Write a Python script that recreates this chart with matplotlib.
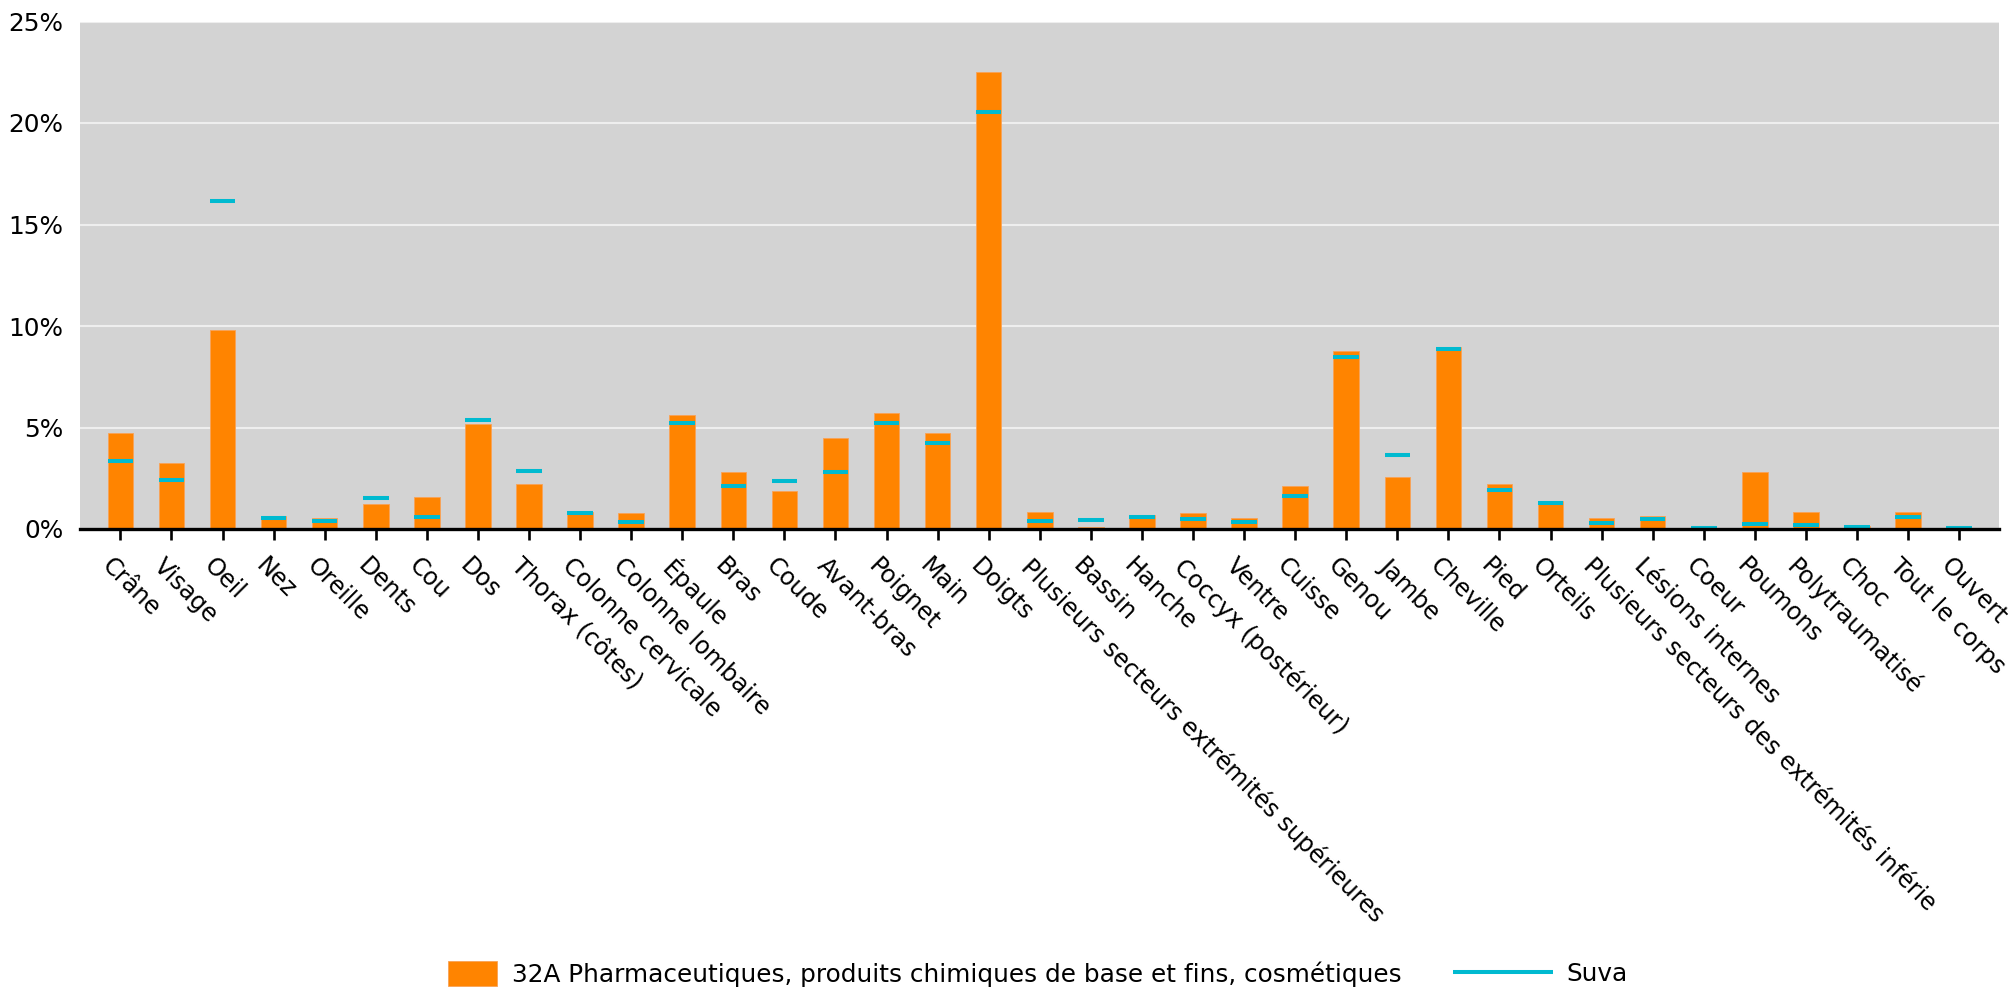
import matplotlib
matplotlib.use('Agg')
import matplotlib.pyplot as plt
import numpy as np
from matplotlib.transforms import ScaledTranslation

categories = [
    "Crâne", "Visage", "Oeil", "Nez", "Oreille", "Dents", "Cou", "Dos",
    "Thorax (côtes)", "Colonne cervicale", "Colonne lombaire", "Épaule", "Bras",
    "Coude", "Avant-bras", "Poignet", "Main", "Doigts",
    "Plusieurs secteurs extrémités supérieures", "Bassin", "Hanche",
    "Coccyx (postérieur)", "Ventre", "Cuisse", "Genou", "Jambe", "Cheville",
    "Pied", "Orteils", "Plusieurs secteurs des extrémités inférie",
    "Lésions internes", "Coeur", "Poumons", "Polytraumatisé", "Choc",
    "Tout le corps", "Ouvert",
]

branche = [4.71, 3.23, 9.78, 0.64, 0.54, 1.23, 1.56, 5.17, 2.23, 0.86, 0.77,
           5.61, 2.79, 1.88, 4.48, 5.73, 4.71, 22.53, 0.85, 0.08, 0.68, 0.77,
           0.54, 2.10, 8.76, 2.56, 8.99, 2.23, 1.36, 0.54, 0.64, 0.0, 2.79,
           0.85, 0.17, 0.85, 0.0]

suva = [3.37, 2.39, 16.15, 0.52, 0.41, 1.54, 0.61, 5.36, 2.86, 0.80, 0.36,
        5.24, 2.12, 2.35, 2.79, 5.20, 4.25, 20.54, 0.40, 0.45, 0.59, 0.50,
        0.33, 1.63, 8.48, 3.66, 8.85, 1.93, 1.30, 0.29, 0.49, 0.05, 0.24,
        0.18, 0.12, 0.57, 0.05]

yticks = [0, 5, 10, 15, 20, 25]
ytick_labels = [f"{v}%" for v in yticks]

label_branche = "32A Pharmaceutiques, produits chimiques de base et fins, cosmétiques"
label_suva = "Suva"

ORANGE = "#FF8400"
CYAN = "#00BAD0"
FS = 17.8
FSX = 17.3

plt.rcParams['font.family'] = ['DejaVu Sans']

W, H = 2011, 991
fig = plt.figure(figsize=(W / 100, H / 100), dpi=100)
ax = fig.add_axes([80 / W, 1 - 529 / H, 1919 / W, (529 - 21.5) / H])

x = np.arange(len(categories))
bw = 0.5
bars = ax.bar(x, branche, width=bw, color=ORANGE, edgecolor="#F9A256",
              linewidth=0.6, zorder=2, label=label_branche)
lines = ax.hlines(suva, x - bw / 2, x + bw / 2, colors=CYAN, linewidth=2.9,
                  zorder=3, label=label_suva)

ax.set_xlim(-0.79, 36.78)
ax.set_ylim(0, 25)
ax.set_facecolor("#D3D3D3")
ax.yaxis.grid(True, color="#EEEEEE", linewidth=1.5)
ax.set_axisbelow(True)

for s in ("left", "right", "top"):
    ax.spines[s].set_visible(False)
ax.spines["bottom"].set_color("black")
ax.spines["bottom"].set_linewidth(2.4)
ax.spines["bottom"].set_zorder(4)

ax.set_yticks(yticks)
ax.set_yticklabels(ytick_labels, fontsize=FS)
ax.tick_params(axis="y", length=0, pad=12)

ax.set_xticks(x)
ax.set_xticklabels(categories, rotation=-45, ha="left", va="top",
                   rotation_mode="anchor", fontsize=FSX)
ax.tick_params(axis="x", length=8, width=1.9, color="black", pad=10,
               direction="out")
offset = ScaledTranslation(-6 / 100, 0, fig.dpi_scale_trans)
for lab in ax.get_xticklabels():
    lab.set_transform(lab.get_transform() + offset)

leg1 = fig.legend(handles=[bars], labels=[label_branche], loc="center left",
                  bbox_to_anchor=(448 / W, 1 - 974 / H), frameon=False,
                  borderpad=0, borderaxespad=0, fontsize=FS,
                  handlelength=1.98, handleheight=1.17, handletextpad=0.62)
leg2 = fig.legend(handles=[lines], labels=[label_suva], loc="center left",
                  bbox_to_anchor=(1453 / W, 1 - 974 / H), frameon=False,
                  borderpad=0, borderaxespad=0, fontsize=FS,
                  handlelength=4.05, handletextpad=0.55)

fig.savefig("out.png", dpi=100)
